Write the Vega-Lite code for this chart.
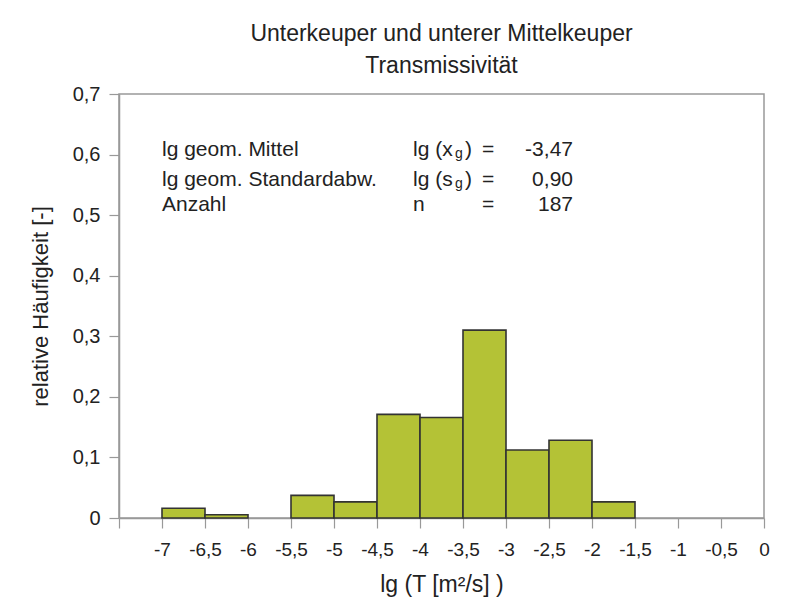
{
  "$schema": "https://vega.github.io/schema/vega-lite/v6.json",
  "width": 645,
  "height": 424,
  "autosize": "none",
  "padding": {"left": 119, "top": 94, "right": 24, "bottom": 97},
  "background": "white",
  "config": {
    "font": "Liberation Sans",
    "view": {"stroke": "#999999", "strokeWidth": 1.5}
  },
  "title": {
    "text": ["Unterkeuper und unterer Mittelkeuper", "Transmissivität"],
    "fontSize": 23,
    "fontWeight": "normal",
    "color": "#222222",
    "lineHeight": 32,
    "anchor": "middle",
    "frame": "group",
    "offset": 6
  },
  "datasets": {
    "bars": [
      {"lo": -7.0, "hi": -6.5, "freq": 0.0160},
      {"lo": -6.5, "hi": -6.0, "freq": 0.0053},
      {"lo": -5.5, "hi": -5.0, "freq": 0.0374},
      {"lo": -5.0, "hi": -4.5, "freq": 0.0267},
      {"lo": -4.5, "hi": -4.0, "freq": 0.1711},
      {"lo": -4.0, "hi": -3.5, "freq": 0.1658},
      {"lo": -3.5, "hi": -3.0, "freq": 0.3102},
      {"lo": -3.0, "hi": -2.5, "freq": 0.1123},
      {"lo": -2.5, "hi": -2.0, "freq": 0.1283},
      {"lo": -2.0, "hi": -1.5, "freq": 0.0267}
    ],
    "leftText": [
      {"x": -7.0, "y": 0.607, "t": "lg geom. Mittel"},
      {"x": -7.0, "y": 0.558, "t": "lg geom. Standardabw."},
      {"x": -7.0, "y": 0.517, "t": "Anzahl"},
      {"x": -4.08, "y": 0.607, "t": "lg (x"},
      {"x": -4.08, "y": 0.558, "t": "lg (s"},
      {"x": -4.08, "y": 0.517, "t": "n"},
      {"x": -3.477, "y": 0.607, "t": ")"},
      {"x": -3.477, "y": 0.558, "t": ")"}
    ],
    "eqText": [
      {"x": -3.209, "y": 0.607, "t": "="},
      {"x": -3.209, "y": 0.558, "t": "="},
      {"x": -3.209, "y": 0.517, "t": "="}
    ],
    "valText": [
      {"x": -2.221, "y": 0.607, "t": "-3,47"},
      {"x": -2.221, "y": 0.558, "t": "0,90"},
      {"x": -2.221, "y": 0.517, "t": "187"}
    ],
    "subText": [
      {"x": -3.593, "y": 0.601, "t": "g"},
      {"x": -3.593, "y": 0.552, "t": "g"}
    ]
  },
  "layer": [
    {
      "data": {"name": "bars"},
      "mark": {"type": "rect", "fill": "#b4c236", "stroke": "#333333", "strokeWidth": 1.6},
      "encoding": {
        "x": {
          "field": "lo",
          "type": "quantitative",
          "scale": {"domain": [-7.5, 0], "nice": false, "zero": false},
          "axis": {
            "values": [-7.5, -7, -6.5, -6, -5.5, -5, -4.5, -4, -3.5, -3, -2.5, -2, -1.5, -1, -0.5, 0],
            "labelExpr": "datum.value == -7.5 ? '' : replace(toString(datum.value), '.', ',')",
            "title": "lg (T [m²/s] )",
            "titleFontSize": 23,
            "titleFontWeight": "normal",
            "titleColor": "#222222",
            "titlePadding": 14,
            "labelFontSize": 19,
            "labelColor": "#222222",
            "labelPadding": 12,
            "labelFlush": false,
            "labelOverlap": false,
            "grid": false,
            "domainColor": "#999999",
            "domainWidth": 1.5,
            "tickColor": "#999999",
            "tickSize": 10,
            "tickWidth": 1.2
          }
        },
        "x2": {"field": "hi"},
        "y": {
          "field": "freq",
          "type": "quantitative",
          "scale": {"domain": [0, 0.7], "nice": false},
          "axis": {
            "values": [0, 0.1, 0.2, 0.3, 0.4, 0.5, 0.6, 0.7],
            "labelExpr": "replace(format(datum.value, '.1~f'), '.', ',')",
            "title": "relative Häufigkeit [-]",
            "titleFontSize": 22,
            "titleFontWeight": "normal",
            "titleColor": "#222222",
            "titlePadding": 20,
            "labelFontSize": 20,
            "labelColor": "#222222",
            "labelPadding": 9,
            "labelFlush": false,
            "grid": false,
            "domainColor": "#999999",
            "domainWidth": 1.5,
            "tickColor": "#999999",
            "tickSize": 10,
            "tickWidth": 1.2
          }
        },
        "y2": {"datum": 0}
      }
    },
    {
      "data": {"name": "leftText"},
      "mark": {"type": "text", "align": "left", "baseline": "middle", "fontSize": 21, "color": "#222222"},
      "encoding": {
        "x": {"field": "x", "type": "quantitative"},
        "y": {"field": "y", "type": "quantitative"},
        "text": {"field": "t"}
      }
    },
    {
      "data": {"name": "eqText"},
      "mark": {"type": "text", "align": "center", "baseline": "middle", "fontSize": 21, "color": "#222222"},
      "encoding": {
        "x": {"field": "x", "type": "quantitative"},
        "y": {"field": "y", "type": "quantitative"},
        "text": {"field": "t"}
      }
    },
    {
      "data": {"name": "valText"},
      "mark": {"type": "text", "align": "right", "baseline": "middle", "fontSize": 21, "color": "#222222"},
      "encoding": {
        "x": {"field": "x", "type": "quantitative"},
        "y": {"field": "y", "type": "quantitative"},
        "text": {"field": "t"}
      }
    },
    {
      "data": {"name": "subText"},
      "mark": {"type": "text", "align": "left", "baseline": "middle", "fontSize": 14, "color": "#222222"},
      "encoding": {
        "x": {"field": "x", "type": "quantitative"},
        "y": {"field": "y", "type": "quantitative"},
        "text": {"field": "t"}
      }
    }
  ]
}
